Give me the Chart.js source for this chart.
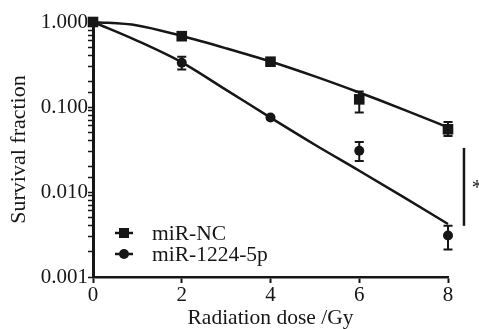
<!DOCTYPE html>
<html>
<head>
<meta charset="utf-8">
<script src="https://cdn.jsdelivr.net/npm/chart.js@4.4.1/dist/chart.umd.min.js"></script>
<style>
  html, body { margin: 0; padding: 0; background: #fff; }
  #wrap { width: 479px; height: 329px; position: relative; }
</style>
</head>
<body>
<div id="wrap"><canvas id="survival-chart"></canvas></div>
<script>
// measured points (mean and error bar ends)
const doses = [0, 2, 4, 6, 8];
const ncMean = [1.0, 0.681, 0.341, 0.123, 0.0547];
const ncLow = [1.0, 0.66, 0.33, 0.086, 0.0457];
const ncHigh = [1.0, 0.70, 0.352, 0.152, 0.0667];
const mirMean = [1.0, 0.332, 0.0751, 0.0305, 0.00308];
const mirLow = [1.0, 0.277, 0.072, 0.0232, 0.0021];
const mirHigh = [1.0, 0.391, 0.078, 0.0388, 0.0040];

// fitted curves, every 1 Gy
const fitDoses = [0, 1, 2, 3, 4, 5, 6, 7, 8];
const ncFit = [1.0, 0.912, 0.684, 0.490, 0.343, 0.229, 0.148, 0.0933, 0.0575];
const mirFit = [1.0, 0.60, 0.335, 0.159, 0.075, 0.036, 0.0178, 0.0087, 0.0042];

const seriesNames = ['miR-NC', 'miR-1224-5p'];
const yTickLabels = [0.001, 0.01, 0.1, 1];
const xTickLabels = [0, 2, 4, 6, 8];

// significance bar between the two curves at 8 Gy
const sigX = 8.36;
const sigTop = 0.033;
const sigBottom = 0.004;

const ink = '#161616';
const fontFamily = '"Liberation Serif", "Times New Roman", serif';

const toXY = (xs, ys) => xs.map((x, i) => ({ x: x, y: ys[i] }));

const errorBars = {
    id: 'errorBars',
    afterDatasetsDraw(chart) {
        const ctx = chart.ctx;
        const xs = chart.scales.x, ys = chart.scales.y;
        chart.data.datasets.forEach((ds) => {
            if (!ds.errLow) return;
            ctx.save();
            ctx.strokeStyle = ink;
            ctx.lineWidth = 2;
            ds.data.forEach((p, j) => {
                const px = xs.getPixelForValue(p.x);
                const top = ys.getPixelForValue(ds.errHigh[j]);
                const bot = ys.getPixelForValue(ds.errLow[j]);
                if (bot - top < 2) return;
                ctx.beginPath();
                ctx.moveTo(px, top); ctx.lineTo(px, bot);
                ctx.moveTo(px - 4.5, top); ctx.lineTo(px + 4.5, top);
                ctx.moveTo(px - 4.5, bot); ctx.lineTo(px + 4.5, bot);
                ctx.stroke();
            });
            ctx.restore();
        });
    }
};

const extras = {
    id: 'extras',
    afterDraw(chart) {
        const ctx = chart.ctx;
        const xs = chart.scales.x, ys = chart.scales.y;
        ctx.save();
        // significance bar + asterisk
        const sx = xs.getPixelForValue(sigX);
        ctx.strokeStyle = ink;
        ctx.lineWidth = 2.5;
        ctx.beginPath();
        ctx.moveTo(sx, ys.getPixelForValue(sigTop));
        ctx.lineTo(sx, ys.getPixelForValue(sigBottom));
        ctx.stroke();
        ctx.fillStyle = ink;
        ctx.font = '21px ' + fontFamily;
        ctx.textAlign = 'center';
        ctx.textBaseline = 'middle';
        ctx.fillText('*', sx + 13, (ys.getPixelForValue(sigTop) + ys.getPixelForValue(sigBottom)) / 2 + 2);

        // legend inside the plot, bottom left
        const rows = [
            { name: seriesNames[0], style: 'rect', y: 233 },
            { name: seriesNames[1], style: 'circle', y: 254 }
        ];
        ctx.textAlign = 'left';
        ctx.font = '21.5px ' + fontFamily;
        rows.forEach((r) => {
            ctx.lineWidth = 2.5;
            ctx.beginPath();
            ctx.moveTo(115, r.y);
            ctx.lineTo(133, r.y);
            ctx.stroke();
            if (r.style === 'rect') {
                ctx.fillRect(119, r.y - 5, 10, 10);
            } else {
                ctx.beginPath();
                ctx.arc(124, r.y, 5, 0, Math.PI * 2);
                ctx.fill();
            }
            ctx.fillText(r.name, 152, r.y + 1);
        });
        ctx.restore();
    }
};

const chartEl = document.getElementById('survival-chart').getContext('2d');

const survivalChart = new Chart(chartEl, {
    type: 'scatter',
    data: {
        datasets: [{
            label: seriesNames[0] + ' fit',
            data: toXY(fitDoses, ncFit),
            showLine: true,
            borderColor: ink,
            borderWidth: 2.5,
            cubicInterpolationMode: 'monotone',
            pointRadius: 0
        }, {
            label: seriesNames[1] + ' fit',
            data: toXY(fitDoses, mirFit),
            showLine: true,
            borderColor: ink,
            borderWidth: 2.5,
            cubicInterpolationMode: 'monotone',
            pointRadius: 0
        }, {
            label: seriesNames[0],
            data: toXY(doses, ncMean),
            errLow: ncLow,
            errHigh: ncHigh,
            showLine: false,
            pointStyle: 'rect',
            pointRadius: 7.5,
            backgroundColor: ink,
            borderColor: ink,
            borderWidth: 0
        }, {
            label: seriesNames[1],
            data: toXY(doses, mirMean),
            errLow: mirLow,
            errHigh: mirHigh,
            showLine: false,
            pointStyle: 'circle',
            pointRadius: 5,
            backgroundColor: ink,
            borderColor: ink,
            borderWidth: 0
        }]
    },
    options: {
        responsive: true,
        maintainAspectRatio: false,
        animation: false,
        clip: false,
        layout: { padding: { left: 0, right: 31, top: 22, bottom: 0 } },
        plugins: {
            legend: { display: false },
            tooltip: { enabled: false }
        },
        scales: {
            x: {
                type: 'linear',
                min: 0,
                max: 8,
                afterBuildTicks: (scale) => { scale.ticks = xTickLabels.map((v) => ({ value: v })); },
                afterFit: (scale) => { scale.height = 52; },
                border: { color: ink, width: 2.5 },
                grid: { drawOnChartArea: false, color: ink, tickLength: 6, tickWidth: 2 },
                ticks: { color: ink, padding: 0, font: { family: fontFamily, size: 21 } },
                title: {
                    display: true,
                    text: 'Radiation dose /Gy',
                    color: ink,
                    padding: { top: 0, bottom: 0 },
                    font: { family: fontFamily, size: 21.5, lineHeight: 1.0 }
                }
            },
            y: {
                type: 'logarithmic',
                min: 0.001,
                max: 1,
                afterFit: (scale) => { scale.width = 93; },
                border: { color: ink, width: 3 },
                grid: { drawOnChartArea: false, color: ink, tickLength: 5, tickWidth: 1.5 },
                ticks: {
                    color: ink,
                    padding: 0,
                    autoSkip: false,
                    font: { family: fontFamily, size: 21 },
                    callback: (v) => {
                        const hit = yTickLabels.find((t) => Math.abs(t - v) / t < 1e-6);
                        return hit !== undefined ? hit.toFixed(3) : '';
                    }
                },
                title: {
                    display: true,
                    text: 'Survival fraction',
                    color: ink,
                    padding: { top: 6, bottom: 0 },
                    font: { family: fontFamily, size: 22 }
                }
            }
        }
    },
    plugins: [errorBars, extras]
});
</script>
</body>
</html>
